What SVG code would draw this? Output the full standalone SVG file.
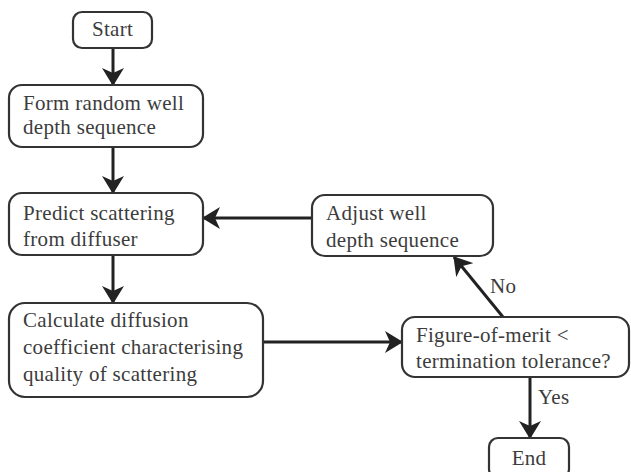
<svg xmlns="http://www.w3.org/2000/svg" width="631" height="472" viewBox="0 0 631 472">
<defs>
<marker id="ah" viewBox="0 0 18 22" refX="17" refY="11" markerWidth="18" markerHeight="22" markerUnits="userSpaceOnUse" orient="auto">
<path d="M0,0 L18,11 L0,22 L5,11 z" fill="#222"/>
</marker>
<style>
.box{fill:#fff;stroke:#333;stroke-width:2.2}
.t{font-family:"Liberation Serif",serif;font-size:21px;letter-spacing:0.3px;fill:#3c3c3c}
.c{stroke:#222;stroke-width:3;fill:none;marker-end:url(#ah)}
</style>
</defs>
<rect width="631" height="472" fill="#fff"/>
<g id="connectors">
<path class="c" d="M113,48 V85"/>
<path class="c" d="M113,147 V193"/>
<path class="c" d="M113,255 V303"/>
<path class="c" d="M263,342 H402"/>
<path class="c" d="M312,218 H203"/>
<path class="c" d="M503,317 L454,257"/>
<path class="c" d="M530,377 V438"/>
<text class="t" x="490" y="293">No</text>
<text class="t" x="538" y="404">Yes</text>
</g>
<g id="start">
<rect class="box" x="73" y="12" width="79" height="36" rx="9"/>
<text class="t" x="112.5" y="36" text-anchor="middle">Start</text>
</g>
<g id="form">
<rect class="box" x="9" y="85" width="194" height="62" rx="13"/>
<text class="t" x="23" y="110">Form random well</text>
<text class="t" x="23" y="134">depth sequence</text>
</g>
<g id="predict">
<rect class="box" x="9" y="193" width="194" height="62" rx="13"/>
<text class="t" x="23" y="220">Predict scattering</text>
<text class="t" x="23" y="246">from diffuser</text>
</g>
<g id="calc">
<rect class="box" x="9" y="303" width="254" height="94" rx="16"/>
<text class="t" x="23" y="327">Calculate diffusion</text>
<text class="t" x="23" y="354">coefficient characterising</text>
<text class="t" x="23" y="381">quality of scattering</text>
</g>
<g id="adjust">
<rect class="box" x="312" y="195" width="181" height="61" rx="13"/>
<text class="t" x="326" y="220">Adjust well</text>
<text class="t" x="326" y="247">depth sequence</text>
</g>
<g id="figure">
<rect class="box" x="402" y="317" width="227" height="60" rx="13"/>
<text class="t" x="416" y="342">Figure-of-merit &lt;</text>
<text class="t" x="416" y="368">termination tolerance?</text>
</g>
<g id="end">
<rect class="box" x="489" y="438" width="80" height="40" rx="9"/>
<text class="t" x="529" y="465" text-anchor="middle">End</text>
</g>
</svg>
